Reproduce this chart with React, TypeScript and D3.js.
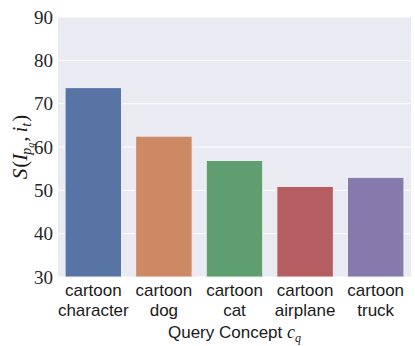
import * as d3 from 'd3';

const concepts = ['character', 'dog', 'cat', 'airplane', 'truck'];
const scores = [73.7, 62.5, 56.9, 50.9, 53.0];
const barColors = ['#5874a4', '#cc8963', '#5f9e6e', '#b55d60', '#857aab'];
const yTicks = [30, 40, 50, 60, 70, 80, 90];

const W = 415;
const H = 346;
const margin = { top: 17, right: 4, bottom: 69, left: 58 };

export default function App() {
  const innerW = W - margin.left - margin.right;
  const innerH = H - margin.top - margin.bottom;

  const x = d3.scaleBand<string>().domain(concepts).range([0, innerW]).paddingInner(0.2).paddingOuter(0.1);
  const y = d3.scaleLinear().domain([30, 90]).range([innerH, 0]);

  const serif = '"Liberation Serif", "DejaVu Serif", serif';
  const sans = '"Liberation Sans", "DejaVu Sans", sans-serif';

  return (
    <svg width={W} height={H} style={{ position: 'absolute', left: 0, top: 0, background: '#fff' }}>
      <g transform={`translate(${margin.left},${margin.top})`}>
        <rect width={innerW} height={innerH} fill="#eaeaf2" />
        {yTicks.map(t => (
          <line key={t} x1={0} x2={innerW} y1={y(t)} y2={y(t)} stroke="#fff" strokeWidth={1} />
        ))}
        {concepts.map((c, i) => (
          <rect
            key={c}
            x={x(c)}
            y={y(scores[i])}
            width={x.bandwidth()}
            height={innerH - y(scores[i])}
            fill={barColors[i]}
            stroke="#eef0f6"
            strokeWidth={1}
          />
        ))}
        {yTicks.map(t => (
          <text key={t} x={-5} y={y(t)} dy="0.35em" textAnchor="end" fontFamily={serif} fontSize={19} fill="#262626">
            {t}
          </text>
        ))}
        {concepts.map(c => (
          <text key={c} x={(x(c) ?? 0) + x.bandwidth() / 2} textAnchor="middle" fontFamily={sans} fontSize={17} fill="#1a1a1a">
            <tspan x={(x(c) ?? 0) + x.bandwidth() / 2} y={innerH + 19}>cartoon</tspan>
            <tspan x={(x(c) ?? 0) + x.bandwidth() / 2} y={innerH + 39}>{c}</tspan>
          </text>
        ))}
        <text x={innerW / 2} y={innerH + 61} textAnchor="middle" fontFamily={sans} fontSize={17} fill="#1a1a1a">
          Query Concept{' '}
          <tspan fontFamily={serif} fontStyle="italic" fontSize={18}>c</tspan>
          <tspan fontFamily={serif} fontStyle="italic" fontSize={12} dy={4}>q</tspan>
        </text>
      </g>
      <text
        transform={`translate(27,${margin.top + innerH / 2}) rotate(-90)`}
        textAnchor="middle"
        fontFamily={serif}
        fontSize={21}
        fill="#1a1a1a"
      >
        <tspan fontStyle="italic">S</tspan>
        <tspan dx={1}>(</tspan>
        <tspan fontStyle="italic">I</tspan>
        <tspan fontStyle="italic" fontSize={14} dy={4} dx={-1}>p</tspan>
        <tspan fontStyle="italic" fontSize={10} dy={3}>q</tspan>
        <tspan dy={-7} dx={1}>,</tspan>
        <tspan fontStyle="italic" dx={4}>i</tspan>
        <tspan fontStyle="italic" fontSize={14} dy={4}>t</tspan>
        <tspan dy={-4} dx={1}>)</tspan>
      </text>
    </svg>
  );
}
